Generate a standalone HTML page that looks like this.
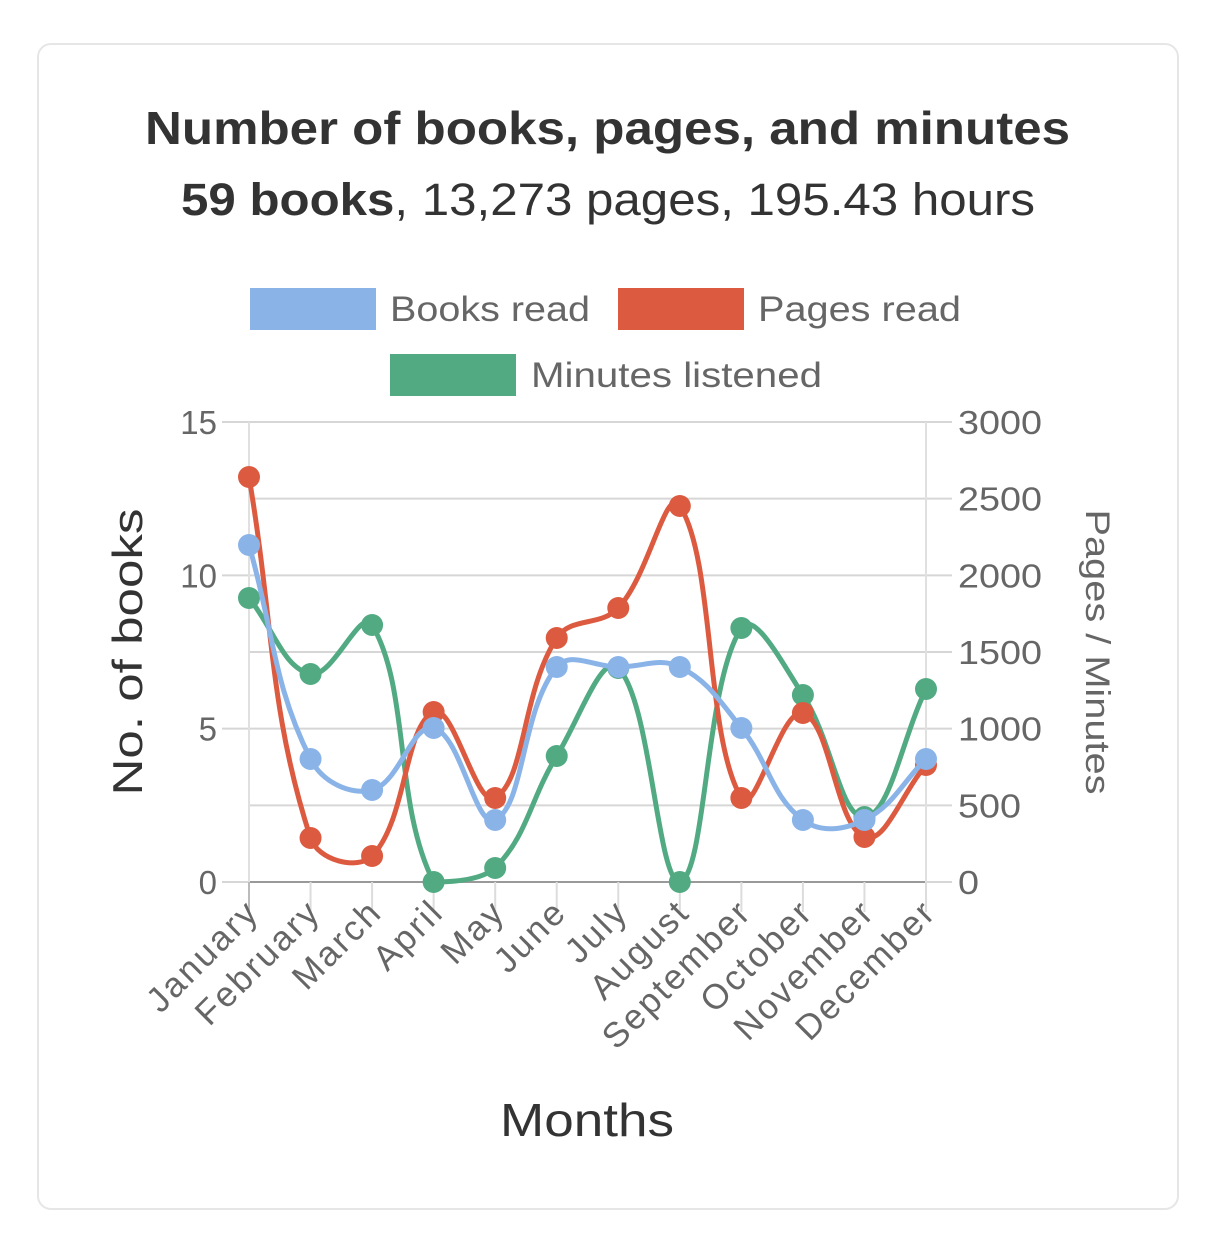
<!DOCTYPE html>
<html><head><meta charset="utf-8">
<style>
html,body{margin:0;padding:0;background:#fff;}
body{width:1226px;height:1243px;position:relative;overflow:hidden;font-family:"Liberation Sans",sans-serif;}
.card{position:absolute;left:37px;top:43px;width:1142px;height:1167px;border:2px solid #e6e6e6;border-radius:14px;box-sizing:border-box;}
</style></head><body>
<div class="card"></div>
<svg id="s" width="1226" height="1243" style="position:absolute;left:0;top:0" font-family="Liberation Sans, sans-serif">
<text x="145" y="144" font-size="46" font-weight="bold" fill="#333" textLength="925" lengthAdjust="spacingAndGlyphs">Number of books, pages, and minutes</text>
<text x="181" y="215" font-size="45" fill="#333" textLength="854" lengthAdjust="spacingAndGlyphs"><tspan font-weight="bold">59 books</tspan>, 13,273 pages, 195.43 hours</text>
<rect x="250" y="288" width="126" height="42" fill="#8ab4e8"/>
<text x="390" y="321" font-size="35" fill="#666" textLength="200" lengthAdjust="spacingAndGlyphs">Books read</text>
<rect x="618" y="288" width="126" height="42" fill="#dc5b40"/>
<text x="758" y="321" font-size="35" fill="#666" textLength="203" lengthAdjust="spacingAndGlyphs">Pages read</text>
<rect x="390" y="354" width="126" height="42" fill="#52aa83"/>
<text x="531" y="387" font-size="35" fill="#666" textLength="291" lengthAdjust="spacingAndGlyphs">Minutes listened</text>
<g id="grid"></g>
<g id="series"></g>
<text x="142" y="652" font-size="42" fill="#333" text-anchor="middle" transform="rotate(-90 142 652)" textLength="287" lengthAdjust="spacingAndGlyphs">No. of books</text>
<text x="1086" y="652" font-size="34" fill="#666" text-anchor="middle" transform="rotate(90 1086 652)" textLength="285" lengthAdjust="spacingAndGlyphs">Pages / Minutes</text>
<text x="587" y="1136" font-size="46" fill="#333" text-anchor="middle" textLength="174" lengthAdjust="spacingAndGlyphs">Months</text>
</svg>
<script>
var ns="http://www.w3.org/2000/svg";
function el(p,t,a,txt){var e=document.createElementNS(ns,t);for(var k in a)e.setAttribute(k,a[k]);if(txt!=null)e.textContent=txt;p.appendChild(e);return e;}
var g=document.getElementById('grid'),S=document.getElementById('series');
var x0=249,x1=926,yb=882,yt=422;
for(var i=0;i<=6;i++){var y=yb-i*(yb-yt)/6;
 el(g,'line',{x1:x0,x2:x1,y1:y,y2:y,stroke:i==0?'#999':'#d6d6d6','stroke-width':2});
 el(g,'line',{x1:926,x2:952,y1:y,y2:y,stroke:'#d6d6d6','stroke-width':2});
 var s=String(i*500);
 el(g,'text',{x:958,y:y+12,'font-size':33,fill:'#666',textLength:s.length*21,lengthAdjust:'spacingAndGlyphs'},s);
 if(i%2==0){el(g,'line',{x1:222,x2:249,y1:y,y2:y,stroke:'#d6d6d6','stroke-width':2});
  el(g,'text',{x:217,y:y+12,'font-size':33,fill:'#666','text-anchor':'end'},String(i/2*5));}
}
el(g,'line',{x1:x0,x2:x0,y1:yt,y2:yb,stroke:'#e0e0e0','stroke-width':2});
el(g,'line',{x1:x1,x2:x1,y1:yt,y2:yb,stroke:'#e0e0e0','stroke-width':2});
var months=['January','February','March','April','May','June','July','August','September','October','November','December'];
var dx=(x1-x0)/11;
months.forEach(function(m,i){var x=x0+i*dx;
 el(g,'line',{x1:x,x2:x,y1:yb,y2:yb+30,stroke:i==0?'#bbb':'#dcdcdc','stroke-width':2});
 el(g,'text',{x:x+12,y:yb+32,'font-size':35,fill:'#666','text-anchor':'end','letter-spacing':'2.5',transform:'rotate(-45 '+(x+12)+' '+(yb+32)+')'},m);
});
var data={
 green:['#52aa83',[598,674,625,882,868,756,668,882,628,695,817,689]],
 red:['#dc5b40',[477,838,856,712,798,638,608,506,798,713,837,765]],
 blue:['#8ab4e8',[545,759,790,728,820,667,667,667,728,820,820,759]]
};
function clampY(v){return Math.max(yt,Math.min(yb,v));}
function spline(pts){var t=0.4,n=pts.length,cp=[];
 for(var i=0;i<n;i++){var p0=pts[Math.max(0,i-1)],p1=pts[i],p2=pts[Math.min(n-1,i+1)];
  var d01=Math.hypot(p1[0]-p0[0],p1[1]-p0[1]),d12=Math.hypot(p2[0]-p1[0],p2[1]-p1[1]);
  var s01=d01/(d01+d12)||0,s12=d12/(d01+d12)||0;var fa=t*s01,fb=t*s12;
  cp[i]={px:p1[0]-fa*(p2[0]-p0[0]),py:clampY(p1[1]-fa*(p2[1]-p0[1])),nx:p1[0]+fb*(p2[0]-p0[0]),ny:clampY(p1[1]+fb*(p2[1]-p0[1]))};}
 var s='M'+pts[0][0]+','+pts[0][1];
 for(var i=0;i<n-1;i++)s+=' C'+cp[i].nx+','+cp[i].ny+' '+cp[i+1].px+','+cp[i+1].py+' '+pts[i+1][0]+','+pts[i+1][1];
 return s;}
['green','red','blue'].forEach(function(k){var c=data[k][0],ys=data[k][1];
 var pts=ys.map(function(y,i){return [x0+i*dx,y];});
 el(S,'path',{d:spline(pts),fill:'none',stroke:c,'stroke-width':5});
 pts.forEach(function(p){el(S,'circle',{cx:p[0],cy:p[1],r:11,fill:c});});
});
</script>
</body></html>
